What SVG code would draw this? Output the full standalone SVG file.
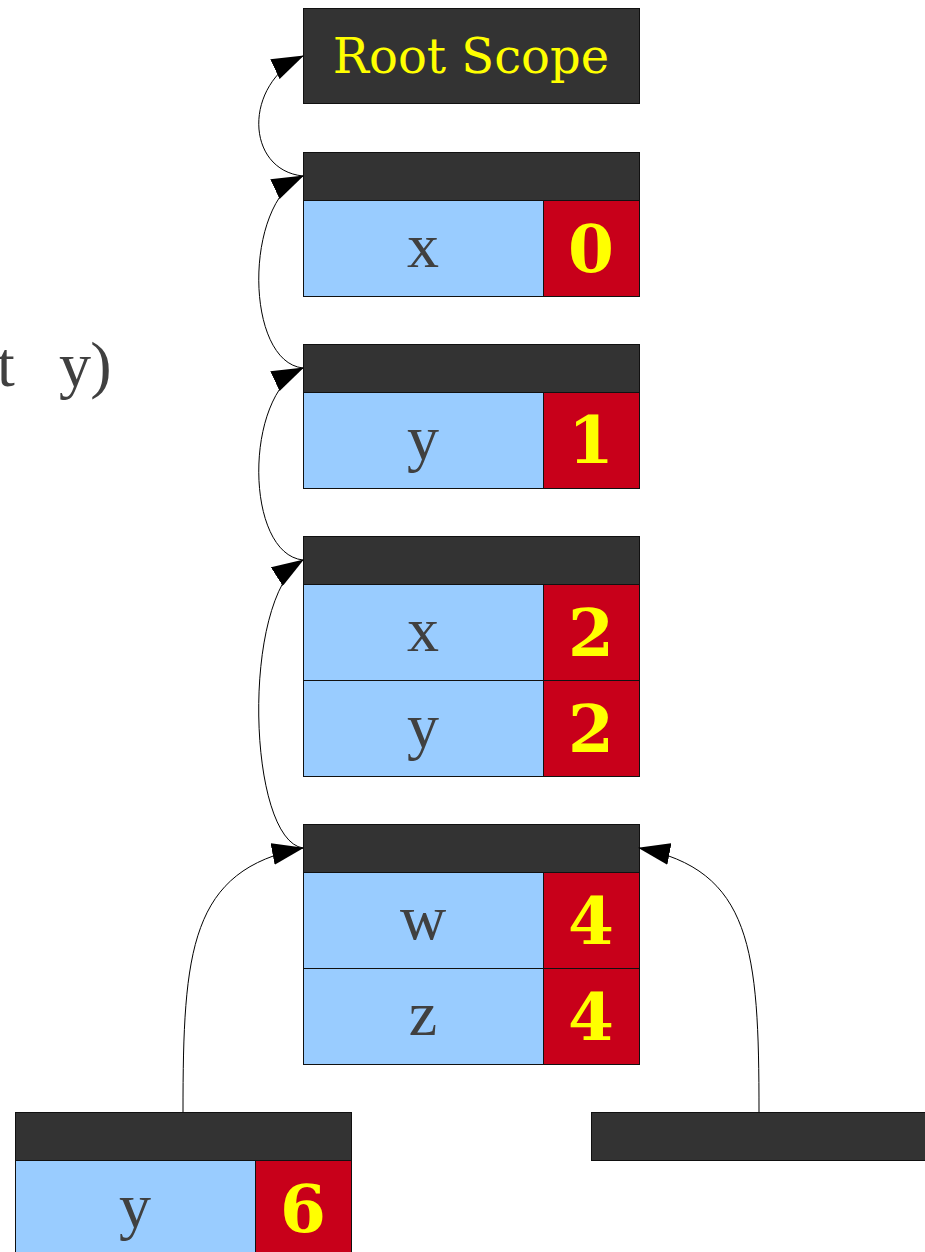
<svg xmlns="http://www.w3.org/2000/svg" width="925" height="1252" viewBox="0 0 925 1252">
<defs>
<marker id="ah" viewBox="0 0 32 22" refX="31" refY="11" markerWidth="32" markerHeight="22" markerUnits="userSpaceOnUse" orient="auto">
<path d="M0,0 L32,11 L0,22 z" fill="#000"/>
</marker>
<style>
.hd{fill:#333333;stroke:#111;stroke-width:1}
.nm{fill:#99ccff;stroke:#111;stroke-width:1}
.vl{fill:#c8001a;stroke:#111;stroke-width:1}
.lt{font-family:"Liberation Serif","DejaVu Serif",serif;font-size:64px;fill:#404040;text-anchor:middle}
.nt{font-family:"DejaVu Serif",serif;font-weight:bold;font-size:66px;fill:#ffff00;text-anchor:middle}
.cn{fill:none;stroke:#000;stroke-width:1;marker-end:url(#ah)}
</style>
</defs>
<rect width="925" height="1252" fill="#fff"/>
<text class="lt" x="6 40 75 101" y="386">t y)</text>
<g id="root">
<rect class="hd" x="303.5" y="8.5" width="336" height="95"/>
<text x="471" y="73" font-family="DejaVu Serif, serif" font-size="48" fill="#ffff00" text-anchor="middle">Root Scope</text>
</g>
<g id="scope1">
<rect class="hd" x="303.5" y="152.5" width="336" height="48"/>
<rect class="nm" x="303.5" y="200.5" width="240" height="96"/>
<rect class="vl" x="543.5" y="200.5" width="96" height="96"/>
<text class="lt" x="423" y="267">x</text>
<text class="nt" x="591" y="272">0</text>
</g>
<g id="scope2">
<rect class="hd" x="303.5" y="344.5" width="336" height="48"/>
<rect class="nm" x="303.5" y="392.5" width="240" height="96"/>
<rect class="vl" x="543.5" y="392.5" width="96" height="96"/>
<text class="lt" x="423" y="459">y</text>
<text class="nt" x="591" y="463">1</text>
</g>
<g id="scope3">
<rect class="hd" x="303.5" y="536.5" width="336" height="48"/>
<rect class="nm" x="303.5" y="584.5" width="240" height="96"/>
<rect class="vl" x="543.5" y="584.5" width="96" height="96"/>
<rect class="nm" x="303.5" y="680.5" width="240" height="96"/>
<rect class="vl" x="543.5" y="680.5" width="96" height="96"/>
<text class="lt" x="423" y="651">x</text>
<text class="nt" x="591" y="656">2</text>
<text class="lt" x="423" y="747">y</text>
<text class="nt" x="591" y="752">2</text>
</g>
<g id="scope4">
<rect class="hd" x="303.5" y="824.5" width="336" height="48"/>
<rect class="nm" x="303.5" y="872.5" width="240" height="96"/>
<rect class="vl" x="543.5" y="872.5" width="96" height="96"/>
<rect class="nm" x="303.5" y="968.5" width="240" height="96"/>
<rect class="vl" x="543.5" y="968.5" width="96" height="96"/>
<text class="lt" x="423" y="939">w</text>
<text class="nt" x="591" y="944">4</text>
<text class="lt" x="423" y="1035">z</text>
<text class="nt" x="591" y="1040">4</text>
</g>
<g id="scope5">
<rect class="hd" x="15.5" y="1112.5" width="336" height="48"/>
<rect class="nm" x="15.5" y="1160.5" width="240" height="96"/>
<rect class="vl" x="255.5" y="1160.5" width="96" height="96"/>
<text class="lt" x="135" y="1227">y</text>
<text class="nt" x="303" y="1232">6</text>
</g>
<g id="scope6">
<rect class="hd" x="591.5" y="1112.5" width="340" height="48"/>
</g>
<g id="connectors">
<path class="cn" d="M303,176 C245,170 243,84 303,56"/>
<path class="cn" d="M303,368 C245,362 243,204 303,176"/>
<path class="cn" d="M303,560 C245,554 243,396 303,368"/>
<path class="cn" d="M303,848 C248,840 240,600 303,560"/>
<path class="cn" d="M183,1112 C183,950 190,870 303,848"/>
<path class="cn" d="M759,1112 C759,950 752,870 639,848"/>
</g>
</svg>
